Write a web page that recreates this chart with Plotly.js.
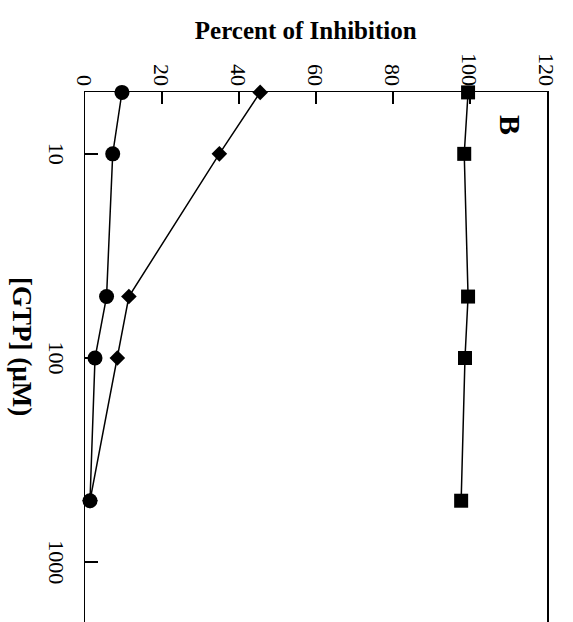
<!DOCTYPE html>
<html>
<head>
<meta charset="utf-8">
<script src="https://cdn.plot.ly/plotly-3.0.1.min.js"></script>
<style>
  html, body { margin: 0; padding: 0; background: #fff; overflow: hidden; }
  #wrap { position: absolute; left: 0; top: 0; width: 573px; height: 622px; overflow: hidden; }
  /* The figure is laid out landscape and turned a quarter turn clockwise onto the page */
  #chart {
    position: absolute; left: 0; top: 0;
    width: 622px; height: 573px;
    transform-origin: 0 0;
    transform: translate(573px, 0) rotate(90deg);
  }
</style>
</head>
<body>
<div id="wrap"><div id="chart"></div></div>
<script>
// [GTP] concentrations (µM)
const gtp = [5, 10, 50, 100, 500];
// Percent of inhibition for the three series
const squareSeries = [99.5, 98.5, 99.5, 98.7, 97.7];
const diamondSeries = [45.5, 34.9, 11.4, 8.4, 1.3];
const circleSeries = [9.6, 7.2, 5.6, 2.6, 1.3];
// Axis ticks
const xTickVals = [10, 100, 1000];
const xTickText = ['10', '100', '1000'];
const yTickVals = [0, 20, 40, 60, 80, 100, 120];
const yTickText = ['0', '20', '40', '60', '80', '100', '120'];

const serif = 'Liberation Serif, Times New Roman, serif';
const lineStyle = { color: '#000', width: 1.5 };

function series(y, symbol, size) {
  return {
    x: gtp, y: y, type: 'scatter', mode: 'lines+markers',
    line: lineStyle,
    marker: { symbol: symbol, size: size, color: '#000' },
    cliponaxis: false, showlegend: false, hoverinfo: 'x+y'
  };
}

const data = [
  series(squareSeries, 'square', 14),
  series(diamondSeries, 'diamond', 12),
  series(circleSeries, 'circle', 15)
];

const layout = {
  width: 622, height: 573,
  margin: { l: 92, r: 0, t: 26, b: 85 },
  paper_bgcolor: '#fff', plot_bgcolor: '#fff',
  showlegend: false,
  xaxis: {
    type: 'log',
    range: [0.697, 3.293],
    tickmode: 'array', tickvals: xTickVals, ticktext: xTickText,
    ticks: 'inside', ticklen: 13, tickwidth: 1.5, tickcolor: '#000',
    showline: true, linecolor: '#000', linewidth: 1.5, mirror: true,
    showgrid: false, zeroline: false,
    ticklabelstandoff: 8,
    tickfont: { family: serif, size: 22, color: '#000' }
  },
  yaxis: {
    range: [0, 120],
    tickmode: 'array', tickvals: yTickVals, ticktext: yTickText,
    ticks: 'inside', ticklen: 12, tickwidth: 1.5, tickcolor: '#000',
    showline: true, linecolor: '#000', linewidth: 1.5, mirror: false,
    showgrid: false, zeroline: false,
    tickfont: { family: serif, size: 22, color: '#000' }
  },
  annotations: [
    {
      text: 'Percent of Inhibition', xref: 'paper', yref: 'paper',
      x: -0.117, y: 0.478, xanchor: 'center', yanchor: 'middle',
      textangle: -90, showarrow: false,
      font: { family: serif, size: 25, color: '#000', weight: 'bold' }
    },
    {
      text: '[GTP] (µM)', xref: 'paper', yref: 'paper',
      x: 0.481, y: -0.136, xanchor: 'center', yanchor: 'middle',
      showarrow: false,
      font: { family: serif, size: 27, color: '#000', weight: 'bold' }
    },
    {
      text: 'B', xref: 'paper', yref: 'paper',
      x: 0.062, y: 0.92, xanchor: 'center', yanchor: 'middle',
      showarrow: false,
      font: { family: serif, size: 30, color: '#000', weight: 'bold' }
    }
  ]
};

Plotly.newPlot('chart', data, layout, { staticPlot: true, displayModeBar: false });
</script>
</body>
</html>
